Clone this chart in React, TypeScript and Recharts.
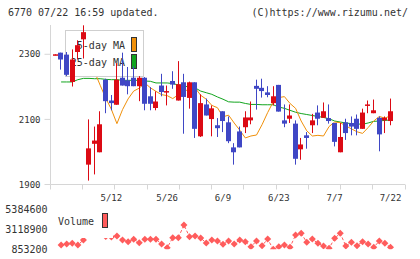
import React from 'react';
import { ComposedChart, Line, Bar, XAxis, YAxis } from 'recharts';

// trading days shown on the chart
const days = [
  '4/23', '4/24', '4/25', '4/28', '4/30', '5/1', '5/2', '5/7', '5/8', '5/9',
  '5/12', '5/13', '5/14', '5/15', '5/16', '5/19', '5/20', '5/21', '5/22', '5/23',
  '5/26', '5/27', '5/28', '5/29', '5/30', '6/2', '6/3', '6/4', '6/5', '6/6',
  '6/9', '6/10', '6/11', '6/12', '6/13', '6/16', '6/17', '6/18', '6/19', '6/20',
  '6/23', '6/24', '6/25', '6/26', '6/27', '6/30', '7/1', '7/2', '7/3', '7/4',
  '7/7', '7/8', '7/9', '7/10', '7/11', '7/14', '7/15', '7/16', '7/17', '7/18',
  '7/22',
];
const dateLabels = ['5/12', '5/26', '6/9', '6/23', '7/7', '7/22'];

const open = [
  2297, 2305, 2299, 2215, 2307, 2346, 1961, 2025, 1999, 2222,
  2158, 2145, 2228, 2220, 2228, 2202, 2228, 2171, 2135, 2204,
  2184, 2218, 2158, 2214, 2166, 2214, 2048, 2146, 2101, 2082,
  2125, 2091, 2014, 2063, 2076, 2097, 2203, 2197, 2183, 2150,
  2206, 2097, 2102, 2087, 2008, 2051, 2082, 2121, 2105, 2104,
  2089, 1999, 2091, 2089, 2102, 2071, 2144, 2119, 2105, 2097,
  2095,
];
const high = [
  2300, 2305, 2307, 2315, 2343, 2389, 2100, 2078, 2125, 2225,
  2175, 2273, 2305, 2261, 2263, 2233, 2230, 2199, 2186, 2240,
  2204, 2248, 2279, 2240, 2216, 2214, 2177, 2164, 2143, 2104,
  2125, 2109, 2027, 2078, 2125, 2155, 2222, 2225, 2202, 2202,
  2206, 2146, 2146, 2097, 2043, 2061, 2117, 2143, 2152, 2146,
  2089, 2089, 2102, 2109, 2115, 2133, 2158, 2161, 2109, 2109,
  2164,
];
const low = [
  2297, 2253, 2233, 2201, 2284, 2287, 1912, 1931, 1999, 2119,
  2128, 2145, 2204, 2177, 2202, 2156, 2128, 2128, 2128, 2171,
  2143, 2194, 2158, 2056, 2133, 2043, 2046, 2112, 2048, 2046,
  2061, 2027, 1961, 2014, 2058, 2085, 2130, 2167, 2168, 2143,
  2124, 2076, 2089, 1961, 1976, 2010, 2058, 2082, 2105, 2087,
  2017, 1999, 2037, 2051, 2051, 2071, 2119, 2119, 2002, 2058,
  2082,
];
const close = [
  2300, 2284, 2237, 2284, 2328, 2368, 2011, 2035, 2085, 2156,
  2150, 2222, 2204, 2202, 2202, 2228, 2148, 2148, 2155, 2184,
  2187, 2207, 2208, 2169, 2214, 2071, 2150, 2112, 2134, 2073,
  2095, 2033, 1999, 2014, 2106, 2106, 2194, 2187, 2175, 2171,
  2124, 2087, 2112, 1979, 2023, 2043, 2097, 2102, 2125, 2095,
  2031, 2046, 2058, 2078, 2071, 2121, 2146, 2128, 2054, 2105,
  2125,
];
const ma5 = [
  null, null, null, null, null, 2287, 2300, 2246, 2205, 2165,
  2131, 2087, 2130, 2163, 2187, 2196, 2212, 2197, 2186, 2176,
  2173, 2164, 2176, 2188, 2191, 2197, 2174, 2162, 2143, 2136,
  2108, 2113, 2089, 2067, 2043, 2049, 2052, 2084, 2121, 2154,
  2167, 2170, 2149, 2134, 2095, 2065, 2049, 2051, 2049, 2078,
  2092, 2090, 2080, 2071, 2062, 2057, 2075, 2095, 2109, 2104,
  2111,
];
const ma25 = [
  null, 2215, 2215, 2215, 2222, 2226, 2226, 2225, 2225, 2223,
  2222, 2222, 2220, 2220, 2220, 2220, 2218, 2217, 2212, 2212,
  2212, 2210, 2206, 2203, 2199, 2197, 2187, 2182, 2177, 2169,
  2162, 2154, 2153, 2153, 2149, 2146, 2146, 2145, 2145, 2145,
  2138, 2134, 2128, 2122, 2118, 2115, 2112, 2109, 2106, 2102,
  2095, 2092, 2089, 2087, 2086, 2085, 2089, 2094, 2095, 2097,
  2098,
];
const volume = [
  null, 1340000, 1450000, 1530000, 1340000, 1910000, 5384600, 3500000, 2600000, 2300000,
  2250000, 2360000, 1910000, 1710000, 1990000, 1600000, 1990000, 1990000, 1990000, 1450000,
  1030000, 2170000, 2170000, 3610000, 2280000, 2360000, 2130000, 1570000, 1910000, 1790000,
  1420000, 1790000, 1450000, 1910000, 1710000, 1150000, 1790000, 1260000, 2020000, 853200,
  1150000, 1340000, 1080000, 2470000, 2670000, 1650000, 2020000, 1530000, 1230000, 970000,
  2100000, 2670000, 1230000, 1650000, 1260000, 1710000, 1450000, 1080000, 1790000, 1530000,
  1080000,
];
const priceTicks = [1900, 2100, 2300];
const volumeTicks = [853200, 3118900, 5384600];

const RED = '#dc0a14';
const BLUE = '#3f47c5';
const ORANGE = '#f0900a';
const GREEN = '#12a51e';
const VOL = '#ff5c5c';
const AXIS = '#d6d6d6';
const INK = '#333333';
const MONO = '"DejaVu Sans Mono", monospace';

const X_DOMAIN: [number, number] = [-0.9, 62.6];
const Y_DOMAIN: [number, number] = [1900, 2390];

const rows = days.map((day, i) => ({
  i,
  day,
  open: open[i],
  high: high[i],
  low: low[i],
  close: close[i],
  ma5: ma5[i],
  ma25: ma25[i],
  vol: volume[i],
}));

// short marks spread evenly under the axis, plus the dated labels
const markTicks = Array.from({ length: 12 }, (_, k) =>
  k === 11 ? X_DOMAIN[1] : X_DOMAIN[0] + ((X_DOMAIN[1] - X_DOMAIN[0]) * k) / 11
);
const labelAt = new Map(dateLabels.map((d) => [days.indexOf(d), d]));

const crisp = (v: number) => Math.round(v - 0.5) + 0.5;

const DateTick = (props: any) => {
  const { x, y, payload } = props;
  const label = labelAt.get(payload.value);
  if (label) {
    return (
      <text x={x} y={y + 16} textAnchor="middle" fontSize={9} fontFamily={MONO} fill={INK}>
        {label}
      </text>
    );
  }
  const cx = crisp(x);
  return <line x1={cx} x2={cx} y1={y} y2={y + 5} stroke={AXIS} />;
};

const Candle = (props: any) => {
  const { x, y, width, height, payload } = props;
  if (!payload || x == null || y == null) return null;
  const top = Math.min(y, y + height);
  const bottom = Math.max(y, y + height);
  const k = (bottom - top) / (payload.high - payload.low || 1);
  const at = (v: number) => top + (payload.high - v) * k;
  const color = payload.close >= payload.open ? RED : BLUE;
  const cx = crisp(x + width / 2);
  const bTop = at(Math.max(payload.open, payload.close));
  const bBot = at(Math.min(payload.open, payload.close));
  return (
    <g>
      <line x1={cx} x2={cx} y1={top} y2={bottom} stroke={color} strokeWidth={1} />
      <rect x={cx - 2.5} y={bTop} width={5} height={Math.max(bBot - bTop, 1.5)} fill={color} />
    </g>
  );
};

const Diamond = (props: any) => {
  const { cx, cy, index } = props;
  if (cx == null || cy == null || props.value == null) return <g key={index} />;
  const r = 3.5;
  return (
    <path
      key={index}
      d={`M${cx},${cy - r}L${cx + r},${cy}L${cx},${cy + r}L${cx - r},${cy}Z`}
      fill={VOL}
    />
  );
};

const Swatch = ({ left, top, color }: { left: number; top: number; color: string }) => (
  <div
    style={{
      position: 'absolute', left, top, width: 6, height: 15, boxSizing: 'border-box',
      background: color, border: '1px solid #333',
    }}
  />
);

const textStyle: React.CSSProperties = {
  position: 'absolute', fontFamily: MONO, fontSize: 10, lineHeight: '12px', color: INK,
  whiteSpace: 'pre',
};

export default function App() {
  return (
    <div style={{ position: 'absolute', left: 0, top: 0, width: 420, height: 259, background: '#fff' }}>
      <div style={{ ...textStyle, left: 8, top: 7 }}>6770 07/22 16:59 updated.</div>
      <div style={{ ...textStyle, right: 12, top: 7 }}>(C)https://www.rizumu.net/</div>

      {/* axes and moving averages */}
      <div style={{ position: 'absolute', left: 0, top: 0 }}>
        <ComposedChart width={420} height={206} data={rows} margin={{ top: 25, right: 15, bottom: 0, left: 0 }}>
          <XAxis
            type="number"
            dataKey="i"
            domain={X_DOMAIN}
            allowDataOverflow
            ticks={[...markTicks, ...labelAt.keys()]}
            interval={0}
            tickLine={false}
            tickSize={0}
            tickMargin={0}
            tick={<DateTick />}
            axisLine={{ stroke: AXIS }}
            height={21.5}
          />
          <YAxis
            type="number"
            domain={Y_DOMAIN}
            allowDataOverflow
            ticks={priceTicks}
            interval={0}
            width={50.5}
            tickSize={6}
            tickMargin={4}
            tickLine={{ stroke: AXIS }}
            axisLine={{ stroke: AXIS }}
            tick={{ fill: INK, fontSize: 9, fontFamily: MONO }}
          />
          <Line dataKey="ma25" stroke={GREEN} strokeWidth={1} dot={false} isAnimationActive={false} />
          <Line dataKey="ma5" stroke={ORANGE} strokeWidth={1} dot={false} isAnimationActive={false} />
        </ComposedChart>
      </div>

      {/* moving average legend */}
      <div
        style={{
          position: 'absolute', left: 65, top: 30, width: 79, height: 47, boxSizing: 'border-box',
          background: '#fff', border: '1px solid #cfcfcf',
        }}
      />
      <div style={{ ...textStyle, left: 55, width: 70, textAlign: 'right', top: 40 }}>5-day MA</div>
      <div style={{ ...textStyle, left: 55, width: 70, textAlign: 'right', top: 57 }}>25-day MA</div>
      <Swatch left={131} top={37} color={ORANGE} />
      <Swatch left={131} top={54} color={GREEN} />

      {/* candlesticks drawn above the legend */}
      <div style={{ position: 'absolute', left: 0, top: 0 }}>
        <ComposedChart width={420} height={206} data={rows} margin={{ top: 25, right: 15, bottom: 21.5, left: 50.5 }}>
          <XAxis type="number" dataKey="i" domain={X_DOMAIN} allowDataOverflow hide />
          <YAxis type="number" domain={Y_DOMAIN} allowDataOverflow hide />
          <Bar dataKey={(r: any) => [r.low, r.high]} shape={<Candle />} isAnimationActive={false} />
        </ComposedChart>
      </div>

      {/* volume */}
      <div style={{ position: 'absolute', left: 0, top: 200 }}>
        <ComposedChart width={420} height={59} data={rows} margin={{ top: 9.3, right: 15, bottom: 9.7, left: 0 }}>
          <XAxis type="number" dataKey="i" domain={X_DOMAIN} allowDataOverflow hide />
          <YAxis
            type="number"
            domain={[volumeTicks[0], volumeTicks[2]]}
            allowDataOverflow
            ticks={volumeTicks}
            interval={0}
            width={50.5}
            axisLine={false}
            tickLine={false}
            tickSize={0}
            tickMargin={3}
            tick={{ fill: INK, fontSize: 10, fontFamily: MONO }}
          />
          <Line
            dataKey="vol"
            stroke={VOL}
            strokeWidth={1}
            strokeDasharray="3 2"
            dot={Diamond}
            activeDot={false}
            isAnimationActive={false}
          />
        </ComposedChart>
      </div>
      <div style={{ position: 'absolute', left: 55, top: 203, width: 58, height: 35, background: '#fff' }} />
      <div style={{ ...textStyle, left: 58, top: 216 }}>Volume</div>
      <Swatch left={102} top={213} color={VOL} />
    </div>
  );
}
